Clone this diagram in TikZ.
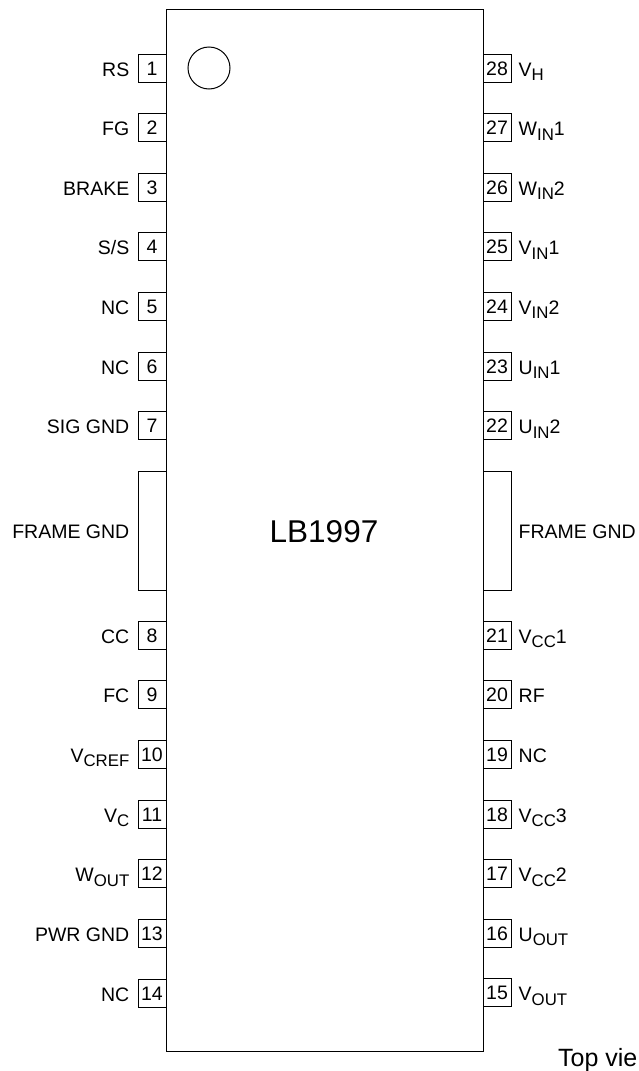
\documentclass[tikz,border=0pt]{standalone}
\usepackage{fontspec}
\setmainfont{Liberation Sans}
\usetikzlibrary{positioning}
\tikzstyle{pin} = [rectangle, draw=black, line width=1pt, minimum width=28pt, minimum height=28pt, inner sep=0pt, font=\fontsize{19.5}{24}\selectfont, text height=14pt, text depth=0pt]
\tikzstyle{frame} = [rectangle, draw=black, line width=1pt, minimum width=28pt, minimum height=119pt, inner sep=0pt]
\tikzstyle{lbl} = [inner sep=0pt, font=\fontsize{19.5}{24}\selectfont, text height=14pt, text depth=0pt, yshift=-1pt]
\newcommand{\subs}[1]{\raisebox{-4.5pt}{\fontsize{16.8}{20}\selectfont #1}}

\begin{document}
\begin{tikzpicture}
        \useasboundingbox (0pt,0pt) rectangle (638pt,-1071pt);

        \node (body) [rectangle, xshift=324.5pt, yshift=-530.5pt, minimum width=317pt, minimum height=1042pt, line width=1pt, draw=black] {};
        \node (dot) [circle, xshift=209pt, yshift=-68pt, minimum size=42pt, inner sep=0pt, line width=1pt, draw=black] {};
        \node (name) [xshift=324pt, yshift=-531.5pt, inner sep=0pt, font=\fontsize{31.5}{38}\selectfont] {LB1997};

        % left side
        \node (p1) [pin, xshift=152pt, yshift=-68pt] {1};
        \node (p2) [pin, xshift=152pt, yshift=-127.6pt] {2};
        \node (p3) [pin, xshift=152pt, yshift=-187.2pt] {3};
        \node (p4) [pin, xshift=152pt, yshift=-246.8pt] {4};
        \node (p5) [pin, xshift=152pt, yshift=-306.4pt] {5};
        \node (p6) [pin, xshift=152pt, yshift=-366pt] {6};
        \node (p7) [pin, xshift=152pt, yshift=-425.6pt] {7};
        \node (fl) [frame, xshift=152pt, yshift=-530.5pt] {};
        \node (p8) [pin, xshift=152pt, yshift=-635pt] {8};
        \node (p9) [pin, xshift=152pt, yshift=-694.7pt] {9};
        \node (p10) [pin, xshift=152pt, yshift=-754.3pt] {10};
        \node (p11) [pin, xshift=152pt, yshift=-814pt] {11};
        \node (p12) [pin, xshift=152pt, yshift=-873.7pt] {12};
        \node (p13) [pin, xshift=152pt, yshift=-933.3pt] {13};
        \node (p14) [pin, xshift=152pt, yshift=-993pt] {14};

        \node (l1) [lbl, left=8pt of p1] {RS};
        \node (l2) [lbl, left=8pt of p2] {FG};
        \node (l3) [lbl, left=8pt of p3] {BRAKE};
        \node (l4) [lbl, left=8pt of p4] {S/S};
        \node (l5) [lbl, left=8pt of p5] {NC};
        \node (l6) [lbl, left=8pt of p6] {NC};
        \node (l7) [lbl, left=8pt of p7] {SIG GND};
        \node (lfl) [lbl, left=8pt of fl] {FRAME GND};
        \node (l8) [lbl, left=8pt of p8] {CC};
        \node (l9) [lbl, left=8pt of p9] {FC};
        \node (l10) [lbl, left=8pt of p10] {V\subs{CREF}};
        \node (l11) [lbl, left=8pt of p11] {V\subs{C}};
        \node (l12) [lbl, left=8pt of p12] {W\subs{OUT}};
        \node (l13) [lbl, left=8pt of p13] {PWR GND};
        \node (l14) [lbl, left=8pt of p14] {NC};

        % right side
        \node (p28) [pin, xshift=497pt, yshift=-68pt] {28};
        \node (p27) [pin, xshift=497pt, yshift=-127.6pt] {27};
        \node (p26) [pin, xshift=497pt, yshift=-187.2pt] {26};
        \node (p25) [pin, xshift=497pt, yshift=-246.8pt] {25};
        \node (p24) [pin, xshift=497pt, yshift=-306.4pt] {24};
        \node (p23) [pin, xshift=497pt, yshift=-366pt] {23};
        \node (p22) [pin, xshift=497pt, yshift=-425.6pt] {22};
        \node (fr) [frame, xshift=497pt, yshift=-530.5pt] {};
        \node (p21) [pin, xshift=497pt, yshift=-635pt] {21};
        \node (p20) [pin, xshift=497pt, yshift=-694.7pt] {20};
        \node (p19) [pin, xshift=497pt, yshift=-754.3pt] {19};
        \node (p18) [pin, xshift=497pt, yshift=-814pt] {18};
        \node (p17) [pin, xshift=497pt, yshift=-873.7pt] {17};
        \node (p16) [pin, xshift=497pt, yshift=-933.3pt] {16};
        \node (p15) [pin, xshift=497pt, yshift=-992.5pt] {15};

        \node (l28) [lbl, right=7pt of p28] {V\subs{H}};
        \node (l27) [lbl, right=7pt of p27] {W\subs{IN}1};
        \node (l26) [lbl, right=7pt of p26] {W\subs{IN}2};
        \node (l25) [lbl, right=7pt of p25] {V\subs{IN}1};
        \node (l24) [lbl, right=7pt of p24] {V\subs{IN}2};
        \node (l23) [lbl, right=7pt of p23] {U\subs{IN}1};
        \node (l22) [lbl, right=7pt of p22] {U\subs{IN}2};
        \node (lfr) [lbl, right=7pt of fr] {FRAME GND};
        \node (l21) [lbl, right=7pt of p21] {V\subs{CC}1};
        \node (l20) [lbl, right=7pt of p20] {RF};
        \node (l19) [lbl, right=7pt of p19] {NC};
        \node (l18) [lbl, right=7pt of p18] {V\subs{CC}3};
        \node (l17) [lbl, right=7pt of p17] {V\subs{CC}2};
        \node (l16) [lbl, right=7pt of p16] {U\subs{OUT}};
        \node (l15) [lbl, right=7pt of p15] {V\subs{OUT}};

        \node (view) [anchor=west, xshift=558pt, yshift=-1057.5pt, inner sep=0pt, font=\fontsize{25}{28}\selectfont, text height=18pt, text depth=0pt] {Top vie};
    \end{tikzpicture}
\end{document}
